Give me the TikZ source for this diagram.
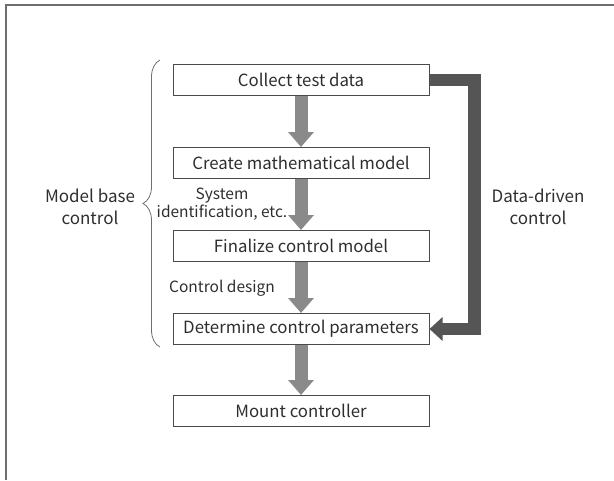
\documentclass[tikz,border=0pt]{standalone}
\usepackage{fontspec}
\setmainfont{Noto Sans CJK JP}
\usetikzlibrary{arrows.meta,decorations.pathreplacing}

\definecolor{textgray}{HTML}{2E2E2E}
\definecolor{framegray}{HTML}{6E6E6E}
\definecolor{boxline}{HTML}{4A4A4A}
\definecolor{stepgray}{HTML}{8A8A8A}
\definecolor{loopgray}{HTML}{555555}

\tikzset{
  stepbox/.style={draw=boxline, line width=1pt, fill=white,
    minimum width=256pt, minimum height=31pt, inner sep=0pt,
    text=textgray, font=\fontsize{16.8pt}{19pt}\selectfont},
  sidelabel/.style={text=textgray, align=center,
    font=\fontsize{17pt}{21.5pt}\selectfont},
  steplabel/.style={text=textgray, align=center,
    font=\fontsize{15.5pt}{18.5pt}\selectfont},
  flowarrow/.style={draw=stepgray, line width=13pt,
    -{Triangle[width=25pt, length=15pt]}},
  looparrow/.style={draw=loopgray, line width=12.5pt, line join=miter,
    -{Triangle[width=23pt, length=13pt]}},
  bracket/.style={draw=framegray, line width=0.8pt,
    decorate, decoration={brace, amplitude=17pt}}
}

\begin{document}
\begin{tikzpicture}[x=1pt, y=-1pt]
  \useasboundingbox (0,0) rectangle (614,480);

  % outer frame (top and left edges)
  \draw[framegray, line width=1.5pt] (6,480) -- (6,5) -- (614,5);

  % process steps
  \node[stepbox] (collect)  at (301,80)  {Collect test data};
  \node[stepbox] (model)    at (301,163) {Create mathematical model};
  \node[stepbox] (finalize) at (301,246) {Finalize control model};
  \node[stepbox] (params)   at (301,329) {Determine control parameters};
  \node[stepbox] (mount)    at (301,411) {Mount controller};

  % step-to-step arrows
  \draw[flowarrow] (collect.south)  -- (model.north);
  \draw[flowarrow] (model.south)    -- (finalize.north);
  \draw[flowarrow] (finalize.south) -- (params.north);
  \draw[flowarrow] (params.south)   -- (mount.north);

  % data-driven shortcut
  \coordinate (loopturn) at (474.5,80);
  \draw[looparrow] (collect.east) -- (loopturn) |- (params.east);

  % labels on the arrows
  \node[steplabel] (sysid)  at (222,204) {System\\identification, etc.};
  \node[steplabel] (design) at (222,288) {Control design};

  % model-based group
  \coordinate (braceBot) at (160,347);
  \coordinate (braceTop) at (160,60);
  \draw[bracket] (braceBot) -- (braceTop);
  \node[sidelabel] (mbc) at (90,207) {Model base\\control};

  \node[sidelabel] (ddc) at (538,207) {Data-driven\\control};
\end{tikzpicture}
\end{document}
